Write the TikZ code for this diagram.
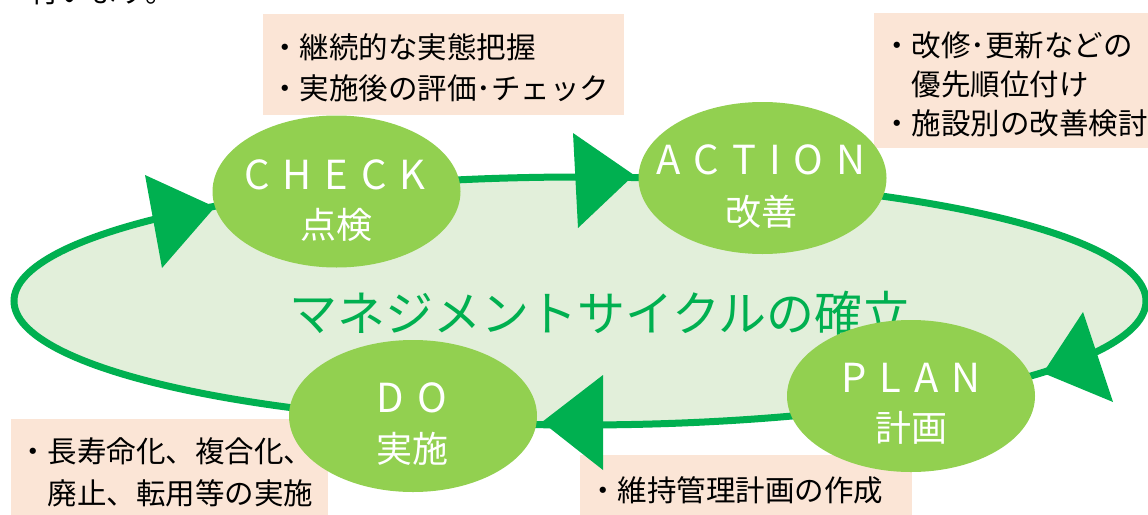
\documentclass[tikz,border=0pt]{standalone}
\usepackage{fontspec}
\setmainfont{Noto Sans CJK JP}
\usetikzlibrary{shapes.geometric}
\definecolor{loopgreen}{HTML}{00B050}
\definecolor{loopfill}{HTML}{E2EFDA}
\definecolor{leaf}{HTML}{92D050}
\definecolor{peach}{HTML}{FBE5D6}
\newcommand\lsp{\hspace{13pt}}
\begin{document}
\begin{tikzpicture}[x=1pt,y=-1pt,
  infobox/.style={fill=peach, draw=none, inner sep=0pt, outer sep=0pt, anchor=north west},
  infotext/.style={font=\fontsize{29.5}{40}\selectfont, anchor=west, inner sep=0pt, text=black},
  phase/.style={ellipse, fill=leaf, draw=none, minimum width=248pt, minimum height=152pt, inner sep=0pt},
  latinlbl/.style={font=\fontsize{40}{40}\selectfont, text=white, inner sep=0pt},
  jlbl/.style={font=\fontsize{36}{36}\selectfont, text=white, inner sep=0pt},
  loopline/.style={draw=loopgreen, fill=loopfill, line width=7pt},
  tri/.style={fill=loopgreen, draw=none}
]
\useasboundingbox (0,0) rectangle (1148,514);
% cut-off text at top
\node[font=\fontsize{29.5}{29.5}\selectfont, anchor=base west, inner sep=0pt] (toptext) at (30,2) {行います。};
% info boxes
\node[infobox, minimum width=361pt, minimum height=101pt] (checkbox) at (263,14) {};
\node[infobox, minimum width=280pt, minimum height=135pt] (actionbox) at (874,13) {};
\node[infobox, minimum width=317pt, minimum height=100pt] (dobox) at (11,419) {};
\node[infobox, minimum width=332pt, minimum height=65pt] (planbox) at (580,455) {};
\node[infotext] (c1) at (270,47) {・継続的な実態把握};
\node[infotext] (c2) at (270,88) {・実施後の評価･チェック};
\node[infotext] (a1) at (882,45) {・改修･更新などの};
\node[infotext] (a2) at (882,84) {\phantom{・}優先順位付け};
\node[infotext] (a3) at (882,123) {・施設別の改善検討};
\node[infotext] (d1) at (18,451) {・長寿命化、複合化、};
\node[infotext] (d2) at (18,493) {\phantom{・}廃止、転用等の実施};
\node[infotext] (p1) at (588,490) {・維持管理計画の作成};
% the cycle
\draw[loopline] (580,301) ellipse [x radius=566, y radius=124];
\node[font=\fontsize{48}{48}\selectfont, text=loopgreen, inner sep=0pt] (title) at (600,313) {マネジメントサイクルの確立};
% arrowheads
\fill[tri] (145,175) -- (215,207) -- (162,268) -- cycle;
\fill[tri] (573,133) -- (634,175) -- (578,228) -- cycle;
\fill[tri] (1083,312) -- (1043,373) -- (1113,402) -- cycle;
\fill[tri] (603,375) -- (542,422) -- (603,470) -- cycle;
% phases
\node[phase] (check) at (336.5,191.5) {};
\node[phase] (action) at (762.5,178) {};
\node[phase] (plan) at (911,396) {};
\node[phase] (doph) at (413,416) {};
\node[latinlbl] (checkl) at (335,174.5) {C\lsp H\lsp E\lsp C\lsp K};
\node[jlbl] (checkj) at (336.5,225) {点検};
\node[latinlbl] (actionl) at (761,160) {A\lsp C\lsp T\lsp I\lsp O\lsp N};
\node[jlbl] (actionj) at (761,212) {改善};
\node[latinlbl] (planl) at (911,378) {P\lsp L\lsp A\lsp N};
\node[jlbl] (planj) at (911,428) {計画};
\node[latinlbl] (dol) at (412,398) {D\lsp O};
\node[jlbl] (doj) at (412,449) {実施};
\end{tikzpicture}
\end{document}
